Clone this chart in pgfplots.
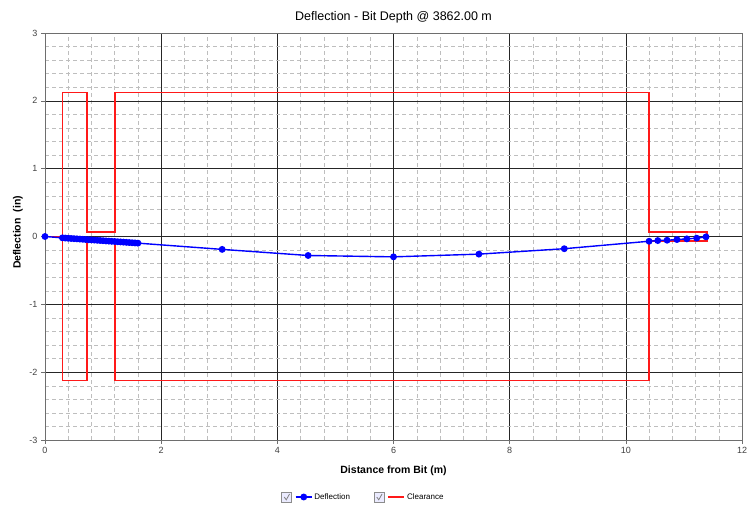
\documentclass[border=0pt]{standalone}
\usepackage{pgfplots}
\pgfplotsset{compat=1.18}
\usepackage{fontspec}
\setmainfont{Liberation Sans}
\definecolor{defl}{RGB}{0,0,255}
\definecolor{clr}{RGB}{255,25,25}
\definecolor{framegray}{RGB}{110,110,110}
\definecolor{minorgray}{RGB}{190,190,190}
\begin{document}
\begin{tikzpicture}
\path[use as bounding box] (0,0) rectangle (754pt,506pt);
\begin{axis}[
  at={(45pt,66pt)}, anchor=south west,
  scale only axis, width=697pt, height=407pt,
  xmin=0, xmax=12, ymin=-3, ymax=3,
  xtick={0,2,...,12}, ytick={-3,-2,-1,0,1,2,3},
  minor x tick num=4, minor y tick num=4,
  grid=both,
  major grid style={black!85, line width=0.6pt},
  minor grid style={minorgray, dash pattern=on 4pt off 3pt, line width=0.45pt},
  axis line style={framegray, line width=0.8pt},
  tick style={framegray, line width=0.6pt},
  major tick length=4pt, minor tick length=0pt,
  tick align=outside,
  xtick pos=bottom, ytick pos=left,
  tick label style={font=\fontsize{9}{10}\selectfont, text=black!75},
  /pgf/number format/assume math mode=true,
  every axis title/.style={at={(axis description cs:0.5,1)}, anchor=base, yshift=12pt, font=\fontsize{12.5}{14}\selectfont},
  title={Deflection - Bit Depth @ 3862.00 m},
  every axis x label/.style={at={(axis description cs:0.5,0)}, anchor=center, yshift=-31pt, font=\bfseries\fontsize{10.5}{12}\selectfont},
  every axis y label/.style={at={(axis description cs:0,0.5)}, anchor=center, xshift=-27pt, yshift=4pt, rotate=90, font=\bfseries\fontsize{10.5}{12}\selectfont},
  xlabel={Distance from Bit (m)},
  ylabel={Deflection\ \ (in)},
  legend style={at={(axis description cs:0.5,0)}, anchor=center, xshift=-30pt, yshift=-57pt, draw=none, fill=none, font=\fontsize{8}{9}\selectfont, /tikz/every even column/.append style={column sep=22pt}},
  legend columns=2,
  legend image code/.code={
    \draw[draw=black!45, fill=blue!8, line width=0.5pt, solid] (0pt,-5pt) rectangle (10pt,5pt);
    \draw[draw=black!50, line width=0.8pt, solid] (2.5pt,0pt) -- (4.5pt,-2.8pt) -- (7.8pt,3pt);
    \draw[mark repeat=2, mark phase=2] plot coordinates {(14pt,0pt)(22pt,0pt)(30pt,0pt)};
  },
]
\addplot[clr, line width=1.6pt, forget plot] coordinates {
 (0,0) (0.3,0) (0.3,2.12) (0.72,2.12) (0.72,0.07) (1.2,0.07) (1.2,2.12)
 (10.4,2.12) (10.4,0.07) (11.4,0.07) (11.4,-0.07) (10.4,-0.07) (10.4,-2.12)
 (1.2,-2.12) (1.2,-0.07) (0.72,-0.07) (0.72,-2.12) (0.3,-2.12) (0.3,0)
};
\addplot[defl, line width=1.4pt, mark=*, mark size=2.7pt, mark options={solid, fill=defl}] coordinates {
 (0,0)
 (0.30,-0.020) (0.35,-0.023) (0.40,-0.026) (0.45,-0.029) (0.50,-0.032)
 (0.55,-0.035) (0.60,-0.038) (0.65,-0.041) (0.70,-0.044) (0.75,-0.047)
 (0.80,-0.050) (0.85,-0.053) (0.90,-0.056) (0.95,-0.059) (1.00,-0.062)
 (1.05,-0.065) (1.10,-0.068) (1.15,-0.071) (1.20,-0.074) (1.25,-0.077)
 (1.30,-0.080) (1.35,-0.083) (1.40,-0.086) (1.45,-0.089) (1.50,-0.092)
 (1.55,-0.095) (1.60,-0.098)
 (3.05,-0.19) (4.53,-0.28) (6.00,-0.30) (7.47,-0.26) (8.94,-0.18)
 (10.40,-0.07) (10.55,-0.06) (10.71,-0.055) (10.88,-0.045) (11.05,-0.035)
 (11.22,-0.025) (11.38,-0.005)
};
\addlegendentry{Deflection}
\addlegendimage{clr, line width=1.6pt}
\addlegendentry{Clearance}
\end{axis}
\end{tikzpicture}
\end{document}
